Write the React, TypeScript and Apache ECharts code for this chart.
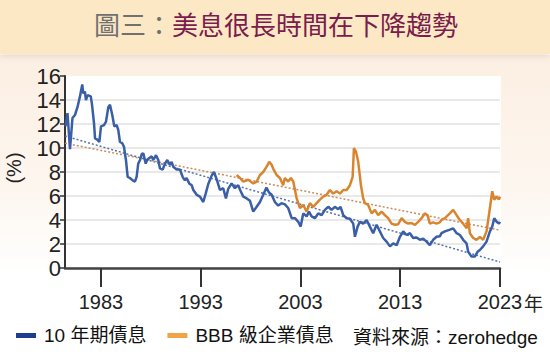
import React, { useEffect, useRef } from "react";
import * as echarts from "echarts";

const xTickYears = [1983, 1993, 2003, 2013, 2023];
const yTickMax = 16;
const yTickStep = 2;
const legendNames = ["10 年期債息", "BBB 級企業債息"];

const tenYearYield: [number, number][] = [
  [1979.45, 11.8], [1979.65, 12.9], [1979.9, 9.9], [1980.15, 12.5], [1980.4, 12.75], [1980.65, 13.4],
  [1980.9, 14.3], [1981.13, 15.3], [1981.23, 14.55], [1981.4, 14.7], [1981.5, 14.0], [1981.67, 14.4],
  [1981.98, 14.3], [1982.11, 13.6], [1982.31, 12.05], [1982.41, 10.8], [1982.64, 10.7], [1982.84, 10.5],
  [1983.01, 11.8], [1983.31, 11.9], [1983.51, 12.2], [1983.74, 13.4], [1983.91, 13.6], [1984.14, 12.75],
  [1984.34, 11.8], [1984.58, 11.9], [1984.74, 11.5], [1984.91, 10.5], [1985.14, 10.4], [1985.31, 10.1],
  [1985.51, 9.0], [1985.68, 7.6], [1985.91, 7.5], [1986.18, 7.3], [1986.41, 7.2], [1986.58, 7.6],
  [1986.74, 8.7], [1986.92, 9.0], [1987.09, 9.5], [1987.25, 9.55], [1987.49, 8.7], [1987.62, 9.0],
  [1987.82, 9.15], [1988.09, 9.3], [1988.25, 9.0], [1988.52, 9.4], [1988.75, 9.0], [1988.92, 8.3],
  [1989.19, 8.2], [1989.42, 8.7], [1989.65, 9.0], [1989.92, 8.6], [1990.09, 8.85], [1990.25, 8.45],
  [1990.59, 8.2], [1990.92, 8.2], [1991.19, 7.6], [1991.42, 7.3], [1991.59, 7.5], [1991.85, 7.05],
  [1992.1, 6.9], [1992.26, 6.5], [1992.6, 6.1], [1992.93, 5.95], [1993.26, 5.5], [1993.5, 6.2],
  [1993.76, 7.0], [1994.1, 7.7], [1994.33, 8.0], [1994.6, 7.4], [1994.93, 6.5], [1995.26, 6.65],
  [1995.53, 5.8], [1995.76, 6.6], [1996.1, 7.05], [1996.43, 6.65], [1996.76, 6.9], [1997.01, 6.4],
  [1997.27, 5.95], [1997.61, 5.8], [1997.94, 5.6], [1998.27, 4.7], [1998.61, 5.1], [1998.94, 5.5],
  [1999.27, 6.1], [1999.59, 6.7], [1999.84, 6.3], [2000.11, 6.1], [2000.44, 5.5], [2000.77, 5.2],
  [2001.11, 5.4], [2001.44, 5.3], [2001.77, 5.0], [2002.12, 4.15], [2002.45, 4.15], [2002.78, 3.85],
  [2003.02, 3.45], [2003.28, 4.55], [2003.62, 4.3], [2003.85, 4.7], [2004.12, 4.3], [2004.45, 4.15],
  [2004.78, 4.55], [2005.12, 4.4], [2005.45, 4.85], [2005.78, 5.1], [2006.12, 4.85], [2006.45, 5.1],
  [2006.78, 4.9], [2007.02, 5.1], [2007.29, 4.4], [2007.63, 4.15], [2007.96, 4.1], [2008.29, 3.7],
  [2008.46, 2.6], [2008.73, 3.45], [2008.96, 3.85], [2009.29, 3.7], [2009.63, 4.0], [2009.96, 3.45],
  [2010.29, 2.9], [2010.63, 3.6], [2010.96, 3.05], [2011.29, 2.5], [2011.63, 2.2], [2011.97, 1.8],
  [2012.3, 2.05], [2012.64, 1.9], [2012.97, 2.6], [2013.3, 3.05], [2013.64, 2.75], [2013.97, 2.9],
  [2014.3, 2.5], [2014.64, 2.55], [2014.97, 2.35], [2015.3, 2.45], [2015.64, 2.2], [2015.97, 1.9],
  [2016.3, 2.35], [2016.64, 2.6], [2016.98, 2.65], [2017.14, 2.9], [2017.48, 3.05], [2017.98, 3.2],
  [2018.31, 3.3], [2018.65, 2.9], [2018.98, 2.75], [2019.31, 2.35], [2019.65, 2.05], [2019.81, 1.35],
  [2020.15, 0.95], [2020.48, 0.95], [2020.75, 1.35], [2020.98, 1.5], [2021.31, 1.8], [2021.65, 2.2],
  [2021.99, 3.05], [2022.22, 3.45], [2022.42, 4.15], [2022.66, 3.85], [2022.89, 3.7], [2023.0, 3.85],
];

const bbbYield: [number, number][] = [
  [1996.6, 7.75], [1996.94, 7.5], [1997.27, 7.2], [1997.77, 7.35], [1998.27, 7.05], [1998.61, 7.2],
  [1998.94, 7.75], [1999.27, 8.0], [1999.61, 8.45], [1999.87, 8.85], [2000.11, 8.6], [2000.34, 8.15],
  [2000.61, 7.75], [2000.94, 7.5], [2001.27, 6.9], [2001.44, 7.5], [2001.77, 7.2], [2002.05, 7.5],
  [2002.28, 7.2], [2002.62, 5.8], [2002.95, 5.0], [2003.28, 5.25], [2003.62, 4.7], [2003.95, 5.4],
  [2004.28, 5.1], [2004.62, 5.4], [2004.95, 5.7], [2005.28, 5.95], [2005.62, 6.1], [2005.95, 6.5],
  [2006.28, 6.2], [2006.62, 6.4], [2006.96, 6.2], [2007.29, 6.5], [2007.63, 6.5], [2007.96, 6.9],
  [2008.23, 7.6], [2008.36, 10.0], [2008.56, 9.7], [2008.79, 8.85], [2009.06, 6.9], [2009.29, 5.8],
  [2009.46, 5.4], [2009.79, 5.25], [2010.13, 4.55], [2010.46, 4.85], [2010.79, 4.4], [2011.13, 4.7],
  [2011.46, 4.4], [2011.79, 4.15], [2012.13, 3.7], [2012.47, 3.6], [2012.8, 3.65], [2013.14, 4.15],
  [2013.47, 3.85], [2013.8, 3.7], [2014.14, 3.75], [2014.47, 3.6], [2014.8, 3.85], [2015.14, 4.15],
  [2015.47, 4.55], [2015.74, 4.4], [2015.97, 3.7], [2016.3, 3.8], [2016.64, 3.7], [2016.97, 3.8],
  [2017.14, 4.0], [2017.48, 4.15], [2017.98, 4.55], [2018.31, 4.85], [2018.65, 4.4], [2018.98, 4.0],
  [2019.31, 3.7], [2019.65, 3.3], [2019.81, 4.15], [2019.98, 2.9], [2020.31, 2.5], [2020.65, 2.35],
  [2020.98, 2.6], [2021.31, 2.35], [2021.65, 3.05], [2021.99, 5.0], [2022.22, 6.4], [2022.42, 5.7],
  [2022.66, 5.95], [2022.89, 5.7], [2023.0, 5.95],
];

const tenYearTrend: [number, number][] = [[1979.4, 11.0], [2023, 0.5]];
const bbbTrend: [number, number][] = [[1979.4, 10.4], [2023, 3.15]];

const LATIN = "'Liberation Sans', Arial, 'Noto Sans CJK TC', sans-serif";
const CJK = "'Noto Sans CJK TC', 'Liberation Sans', sans-serif";

export default function App() {
  const ref = useRef<HTMLDivElement>(null);

  useEffect(() => {
    document.body.style.margin = "0";
    const chart = echarts.init(ref.current!, null, { renderer: "svg" });

    const splitColors: string[] = [];
    for (let v = 0; v <= yTickMax; v += yTickStep) {
      splitColors.push(v === yTickMax ? "rgba(0,0,0,0)" : "#e2e2e2");
    }

    chart.setOption({
      animation: false,
      backgroundColor: "#ffffff",
      graphic: [
        {
          type: "rect",
          z: -10,
          shape: { x: 0, y: 55, width: 550, height: 220 },
          style: {
            fill: new echarts.graphic.LinearGradient(0, 0, 0, 1, [
              { offset: 0, color: "#fcefe3" },
              { offset: 0.6, color: "#fdf6ef" },
              { offset: 1, color: "#ffffff" },
            ]),
          },
        },
        {
          type: "rect",
          z: -9,
          shape: { x: 65, y: 76, width: 436, height: 192 },
          style: { fill: "#ffffff" },
        },
        {
          type: "rect",
          shape: { x: 0, y: 0, width: 550, height: 54 },
          style: {
            fill: "#fce8c5",
            shadowBlur: 6,
            shadowOffsetY: 2,
            shadowColor: "rgba(170,130,90,0.25)",
          },
        },
        {
          type: "text",
          x: 276,
          y: 23,
          style: {
            text: "{g|圖三：}{m|美息很長時間在下降趨勢}",
            align: "center",
            verticalAlign: "middle",
            rich: {
              g: { fontSize: 26, fontFamily: CJK, fill: "#707070", color: "#707070" },
              m: { fontSize: 26, fontFamily: CJK, fill: "#7a1c4c", color: "#7a1c4c" },
            },
          },
        },
        {
          type: "text",
          x: 14,
          y: 168,
          rotation: Math.PI / 2,
          style: {
            text: "(%)",
            align: "center",
            verticalAlign: "middle",
            fontSize: 20,
            fontFamily: LATIN,
            fill: "#222",
          },
        },
        {
          type: "text",
          x: 524,
          y: 302,
          style: {
            text: "年",
            align: "left",
            verticalAlign: "middle",
            fontSize: 19,
            fontFamily: CJK,
            fill: "#222",
          },
        },
        {
          type: "text",
          x: 353,
          y: 337,
          style: {
            text: "資料來源：zerohedge",
            align: "left",
            verticalAlign: "middle",
            fontSize: 19,
            fontFamily: LATIN,
            fill: "#111",
          },
        },
      ],
      legend: {
        left: 16,
        top: 326,
        icon: "rect",
        itemWidth: 20,
        itemHeight: 5,
        itemGap: 21,
        padding: 0,
        selectedMode: false,
        data: [
          { name: legendNames[0], itemStyle: { color: "#1f3d8e" } },
          { name: legendNames[1], itemStyle: { color: "#f0a444" } },
        ],
        textStyle: { fontSize: 19, color: "#111", fontFamily: LATIN, padding: [0, 0, 0, 3] },
      },
      grid: { left: 65, right: 50, top: 76, bottom: 89, containLabel: false },
      xAxis: {
        type: "value",
        min: 1979.4,
        max: 2023,
        axisLine: { show: true, lineStyle: { color: "#444", width: 2.5 } },
        axisTick: {
          show: true,
          length: 19,
          customValues: xTickYears,
          lineStyle: { color: "#333", width: 2 },
        },
        axisLabel: {
          customValues: xTickYears,
          margin: 24,
          fontSize: 20,
          color: "#222",
          fontFamily: LATIN,
          formatter: (v: number) => String(v),
        },
        splitLine: { show: false },
      },
      yAxis: {
        type: "value",
        min: 0,
        max: yTickMax,
        interval: yTickStep,
        axisLine: { show: true, lineStyle: { color: "#333", width: 2 } },
        axisTick: { show: true, length: 5, lineStyle: { color: "#333", width: 1.5 } },
        axisLabel: { fontSize: 22, color: "#222", fontFamily: LATIN, margin: 4 },
        splitLine: { show: true, lineStyle: { color: splitColors, width: 1.5 } },
      },
      series: [
        {
          name: "trend10",
          type: "line",
          data: tenYearTrend,
          showSymbol: false,
          silent: true,
          z: 1,
          lineStyle: { type: [2, 2], width: 1.5, color: "#5572ad" },
        },
        {
          name: "trendBBB",
          type: "line",
          data: bbbTrend,
          showSymbol: false,
          silent: true,
          z: 1,
          lineStyle: { type: [2, 2], width: 1.5, color: "#c98a5c" },
        },
        {
          name: legendNames[0],
          type: "line",
          data: tenYearYield,
          showSymbol: false,
          z: 3,
          itemStyle: { color: "#3a5fa7" },
          lineStyle: { width: 2.5, color: "#3a5fa7" },
        },
        {
          name: legendNames[1],
          type: "line",
          data: bbbYield,
          showSymbol: false,
          z: 3,
          itemStyle: { color: "#d9852f" },
          lineStyle: { width: 2.5, color: "#d9852f" },
        },
      ],
    });

    return () => chart.dispose();
  }, []);

  return <div ref={ref} style={{ width: 550, height: 357 }} />;
}
